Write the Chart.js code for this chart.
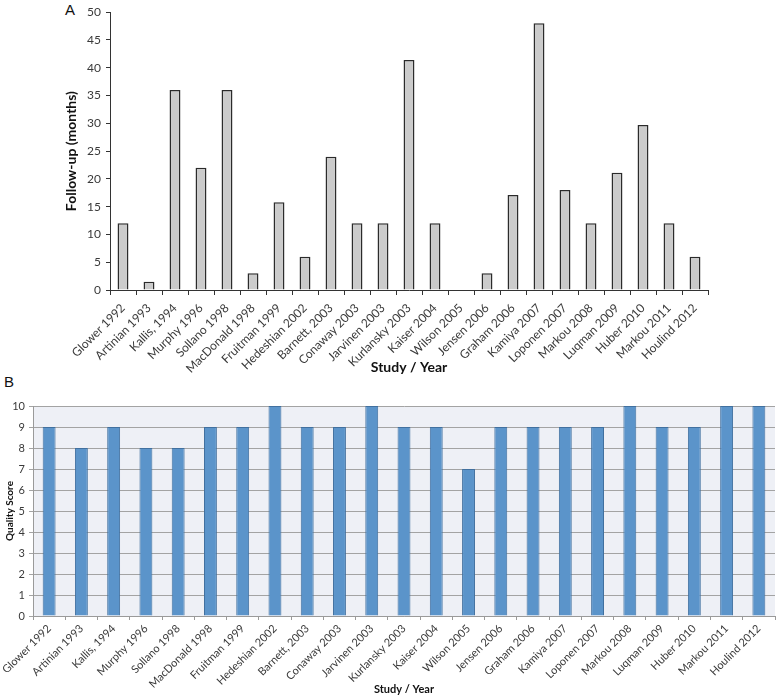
<!DOCTYPE html>
<html>
<head>
<meta charset="utf-8">
<script src="https://cdn.jsdelivr.net/npm/chart.js@4"></script>
<style>
  body { margin: 0; background: #fff; width: 777px; height: 697px; position: relative; overflow: hidden; }
  canvas { position: absolute; left: 0; }
  #c1 { top: 0; }
  #c2 { top: 380px; }
  .panel { position: absolute; font-family: "Liberation Sans", Arial, sans-serif; font-size: 15px; color: #111; }
</style>
</head>
<body>
<div class="panel" style="left:65px; top:1px;">A</div>
<div class="panel" style="left:4px; top:373px;">B</div>
<canvas id="c1" width="777" height="380"></canvas>
<canvas id="c2" width="777" height="317"></canvas>
<script>
const studies = ['Glower 1992', 'Artinian 1993', 'Kallis, 1994', 'Murphy 1996', 'Sollano 1998', 'MacDonald 1998',
    'Fruitman 1999', 'Hedeshian 2002', 'Barnett, 2003', 'Conaway 2003', 'Jarvinen 2003', 'Kurlansky 2003',
    'Kaiser 2004', 'Wilson 2005', 'Jensen 2006', 'Graham 2006', 'Kamiya 2007', 'Loponen 2007', 'Markou 2008',
    'Luqman 2009', 'Huber 2010', 'Markou 2011', 'Houlind 2012'];
const followUp = [12, 1.5, 36, 22, 36, 3, 15.8, 6, 24, 12, 12, 41.4, 12, 0, 3, 17.1, 48, 18, 12, 21.1, 29.7, 12, 6];
const qualityScore = [9, 8, 9, 8, 8, 9, 9, 10, 9, 9, 10, 9, 9, 7, 9, 9, 9, 9, 10, 9, 9, 10, 10];

const fontFam = 'Lato, "Open Sans", sans-serif';

// plot background for panel B
const plotBg = {
    id: 'plotBg',
    beforeDraw(chart, args, opts) {
        if (!opts.color) return;
        const a = chart.chartArea;
        chart.ctx.save();
        chart.ctx.fillStyle = opts.color;
        chart.ctx.fillRect(a.left, a.top, a.right - a.left, a.bottom - a.top);
        chart.ctx.restore();
    }
};

new Chart(document.getElementById('c1'), {
    type: 'bar',
    data: {
        labels: studies,
        datasets: [{
            data: followUp,
            backgroundColor: '#cbcbcb',
            borderColor: '#2b2b2b',
            borderWidth: 1.5,
            barPercentage: 0.42,
            categoryPercentage: 1
        }]
    },
    plugins: [plotBg],
    options: {
        responsive: false,
        animation: false,
        layout: { padding: { top: 9, right: 69, left: 0, bottom: 0 } },
        plugins: { legend: { display: false }, tooltip: { enabled: false }, plotBg: {} },
        scales: {
            x: {
                afterFit: s => { s.height = 90; },
                grid: { drawOnChartArea: false, tickLength: 5, color: '#333' },
                border: { color: '#333', width: 1 },
                ticks: { color: '#3a3a3a', font: { family: fontFam, size: 12 }, minRotation: 45, maxRotation: 45, padding: 6, autoSkip: false },
                title: { display: true, text: 'Study / Year', color: '#111', font: { family: fontFam, size: 14, weight: 'bold' }, padding: { bottom: 4 } }
            },
            y: {
                min: 0, max: 50,
                afterFit: s => { s.width = 110; },
                grid: { drawOnChartArea: false, tickLength: 4, color: '#333' },
                border: { color: '#333', width: 1 },
                ticks: { stepSize: 5, color: '#3a3a3a', font: { family: fontFam, size: 12 }, padding: 5 },
                title: { display: true, text: 'Follow-up (months)', color: '#111', font: { family: fontFam, size: 14, weight: 'bold' }, padding: { top: 63 } }
            }
        }
    }
});

new Chart(document.getElementById('c2'), {
    type: 'bar',
    data: {
        labels: studies,
        datasets: [{
            data: qualityScore,
            backgroundColor: '#5b94ca',
            borderColor: '#41709f',
            borderWidth: 1,
            barPercentage: 0.4,
            categoryPercentage: 1
        }]
    },
    plugins: [plotBg],
    options: {
        responsive: false,
        animation: false,
        layout: { padding: { top: 26, right: 2, left: 0, bottom: 0 } },
        plugins: { legend: { display: false }, tooltip: { enabled: false }, plotBg: { color: '#eef0f6' } },
        scales: {
            x: {
                afterFit: s => { s.height = 81; },
                grid: { drawOnChartArea: false, tickLength: 4, color: '#9a9a9a' },
                border: { color: '#9a9a9a', width: 1 },
                ticks: { color: '#3a3a3a', font: { family: fontFam, size: 11 }, minRotation: 45, maxRotation: 45, padding: 2, autoSkip: false },
                title: { display: true, text: 'Study / Year', color: '#111', font: { family: fontFam, size: 11, weight: 'bold' }, padding: { bottom: 1 } }
            },
            y: {
                min: 0, max: 10,
                afterFit: s => { s.width = 33; },
                grid: { color: '#a3a3a3', tickLength: 4, lineWidth: 1 },
                border: { color: '#9a9a9a', width: 1 },
                ticks: { stepSize: 1, color: '#3a3a3a', font: { family: fontFam, size: 11 }, padding: 4 },
                title: { display: true, text: 'Quality Score', color: '#111', font: { family: fontFam, size: 10, weight: 'bold' }, padding: { top: 4 } }
            }
        }
    }
});
</script>
</body>
</html>
